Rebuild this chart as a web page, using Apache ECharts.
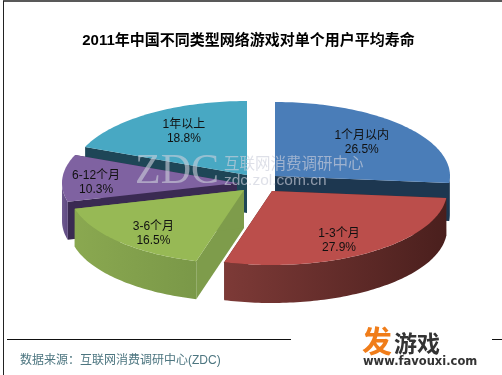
<!DOCTYPE html>
<html>
<head>
<meta charset="utf-8">
<title>2011年中国不同类型网络游戏对单个用户平均寿命</title>
<style>
html,body{margin:0;padding:0;background:#fff;}
#chart{width:502px;height:375px;}
</style>
<script src="https://cdn.jsdelivr.net/npm/echarts@6/dist/echarts.min.js"></script>
</head>
<body>
<div id="chart"></div>
<script>
//数据
var categories = ['1个月以内', '1-3个月', '3-6个月', '6-12个月', '1年以上'];
var shares = [26.5, 27.9, 16.5, 10.3, 18.8];

//每块的样式和炸开位置
var topColors = ['#4a7db8', '#bb4e4b', '#97b955', '#7f62a1', '#48a8c3'];
var cutColors = ['#1d3750', '#5a2523', '#7e9c4b', '#3a2a52', '#1e4657'];
var wallColors = [['#1d3750', '#1d3750'], ['#7d3a37', '#4a1f1d'], ['#8aa850', '#7a9848'], ['#6f5a90', '#5d4880'], ['#1e4657', '#1e4657']];
var centers = [[275, 176], [272, 191], [244, 190], [237, 183], [247, 175]];
var labelFx = [0.67, 0.678, 0.725, 0.807, 0.647];
var labelFy = [0.67, 0.816, 0.844, 0, 0.70];
var drawOrder = [4, 3, 0, 2, 1];
var RX = 175, RY = 74, DEPTH = 38;

//累计角度，从12点钟方向顺时针
var total = shares.reduce(function (a, b) { return a + b; }, 0);
var startAngles = [];
var sum = 0;
for (var i = 0; i < shares.length; i++) {
    startAngles.push(sum / total * Math.PI * 2);
    sum += shares[i];
}

function pointAt(c, a, dy) {
    return [c[0] + Math.sin(a) * RX, c[1] - Math.cos(a) * RY + (dy || 0)];
}

function arcPoints(c, a0, a1, dy) {
    var pts = [];
    var n = Math.max(2, Math.ceil((a1 - a0) / 0.02));
    for (var k = 0; k <= n; k++) {
        pts.push(pointAt(c, a0 + (a1 - a0) * k / n, dy));
    }
    return pts;
}

function cutFace(c, a) {
    var p = pointAt(c, a);
    var q = pointAt(c, a, DEPTH);
    return [[c[0], c[1]], p, q, [c[0], c[1] + DEPTH]];
}

function renderSlice(params, api) {
    var idx = api.value(0);
    var a0 = startAngles[idx];
    var a1 = a0 + shares[idx] / total * Math.PI * 2;
    var c = centers[idx];
    var children = [];

    //两个切面
    [a0, a1].forEach(function (a) {
        children.push({ type: 'polygon', shape: { points: cutFace(c, a) }, style: { fill: cutColors[idx] } });
    });

    //外壁
    var w0 = Math.max(a0, Math.PI / 2);
    var w1 = Math.min(a1, Math.PI * 3 / 2);
    if (w1 > w0) {
        var wall = arcPoints(c, w0, w1, 0).concat(arcPoints(c, w0, w1, DEPTH).reverse());
        children.push({
            type: 'polygon',
            shape: { points: wall },
            style: {
                fill: {
                    type: 'linear', x: 0, y: 0, x2: 1, y2: 0,
                    colorStops: [
                        { offset: 0, color: wallColors[idx][0] },
                        { offset: 1, color: wallColors[idx][1] }
                    ]
                }
            }
        });
    }

    //顶面
    var top = [[c[0], c[1]]].concat(arcPoints(c, a0, a1, 0));
    children.push({ type: 'polygon', shape: { points: top }, style: { fill: topColors[idx] } });

    //标签
    var mid = (a0 + a1) / 2;
    var lx = c[0] + Math.sin(mid) * RX * labelFx[idx];
    var ly = c[1] - Math.cos(mid) * RY * labelFy[idx];
    children.push({
        type: 'text',
        style: {
            text: categories[idx] + '\n' + shares[idx].toFixed(1) + '%',
            x: lx, y: ly, align: 'center', verticalAlign: 'middle',
            fill: '#111', font: '12px "Liberation Sans","Noto Sans CJK SC",sans-serif', lineHeight: 14
        }
    });
    return { type: 'group', children: children };
}

var myChart = echarts.init(document.getElementById('chart'));
myChart.setOption({
    animation: false,
    backgroundColor: '#fff',
    title: {
        text: '2011年中国不同类型网络游戏对单个用户平均寿命',
        left: 243.5, top: 28, textAlign: 'center',
        textStyle: { fontSize: 15, fontWeight: 'bold', color: '#000', fontFamily: '"Liberation Sans","Noto Sans CJK SC",sans-serif' }
    },
    series: [{
        type: 'custom',
        coordinateSystem: 'none',
        clip: false,
        renderItem: renderSlice,
        data: drawOrder.map(function (i) { return [i, shares[i]]; })
    }],
    graphic: [
        //边框和横线
        { type: 'line', z: 10, shape: { x1: 3.5, y1: 1, x2: 3.5, y2: 375 }, style: { stroke: '#222', lineWidth: 1 } },
        { type: 'line', z: 10, shape: { x1: 3, y1: 1, x2: 502, y2: 1 }, style: { stroke: '#222', lineWidth: 1.5 } },
        { type: 'line', z: 10, shape: { x1: 7, y1: 339.5, x2: 291, y2: 339.5 }, style: { stroke: '#111', lineWidth: 1 } },
        { type: 'line', z: 10, shape: { x1: 492, y1: 339.5, x2: 502, y2: 339.5 }, style: { stroke: '#111', lineWidth: 1 } },
        //水印
        { type: 'text', z: 20, left: 135, top: 151, style: { text: 'ZDC', fill: 'rgba(205,208,220,0.6)', font: '42px "Liberation Serif",serif' } },
        { type: 'text', z: 20, left: 224, top: 155, style: { text: '互联网消费调研中心', fill: 'rgba(205,208,220,0.65)', font: '15.5px "Noto Sans CJK SC",sans-serif' } },
        { type: 'text', z: 20, left: 224, top: 173, style: { text: 'zdc.zol.com.cn', fill: 'rgba(205,208,220,0.65)', font: '15.5px "Liberation Sans",sans-serif' } },
        //数据来源
        { type: 'text', z: 10, left: 20, top: 355, style: { text: '数据来源：互联网消费调研中心(ZDC)', fill: '#4d7680', font: '12px "Liberation Sans","Noto Sans CJK SC",sans-serif' } },
        //角标
        { type: 'text', z: 10, left: 362, top: 326, style: { text: '发', fill: '#f07d1a', font: 'bold 30px "Noto Sans CJK SC",sans-serif' } },
        { type: 'text', z: 10, left: 394, top: 332, style: { text: '游戏', fill: '#333', font: 'bold 23px "Noto Sans CJK SC",sans-serif' } },
        { type: 'text', z: 10, left: 363, top: 356, style: { text: 'www.favouxi.com', fill: '#333', font: 'bold 11.5px "DejaVu Sans",sans-serif' } }
    ]
});
</script>
</body>
</html>
